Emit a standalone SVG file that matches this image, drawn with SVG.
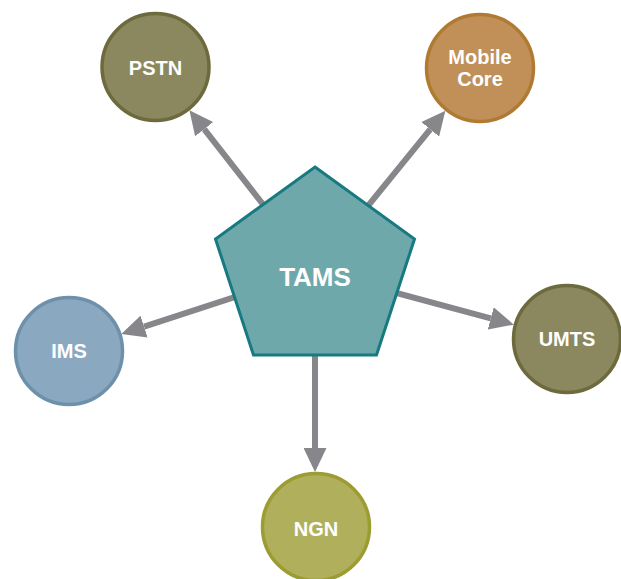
<svg xmlns="http://www.w3.org/2000/svg" width="621" height="579" viewBox="0 0 621 579">
  <style>
    .link { stroke: #87878b; stroke-width: 6; fill: none; marker-end: url(#head); }
    .node circle { stroke-width: 3.5; }
    .label { font-family: "Liberation Sans", Arial, sans-serif; font-weight: bold; fill: #ffffff; text-anchor: middle; font-size: 20px; }
    .hub { font-size: 26px; }
  </style>
  <defs>
    <marker id="head" markerUnits="userSpaceOnUse" markerWidth="24" markerHeight="23" refX="0" refY="11.5" orient="auto">
      <path d="M0,0 L24,11.5 L0,23 z" fill="#87878b"/>
    </marker>
  </defs>
  <rect width="621" height="579" fill="#ffffff"/>

  <g id="connectors">
    <line class="link" x1="315" y1="271" x2="204.2" y2="129.2"/>
    <line class="link" x1="315" y1="271" x2="430.2" y2="129.3"/>
    <line class="link" x1="315" y1="271" x2="144.1" y2="326.6"/>
    <line class="link" x1="315" y1="271" x2="490.7" y2="318.4"/>
    <line class="link" x1="315" y1="271" x2="315" y2="448"/>
  </g>

  <g id="tams" class="node">
    <polygon points="315,167 414.5,239 376.5,355 253.5,355 215.5,239" fill="#6fa8ab" stroke="#177a80" stroke-width="3"/>
    <text class="label hub" x="315" y="286">TAMS</text>
  </g>

  <g id="pstn" class="node">
    <circle cx="155.5" cy="67" r="53.5" fill="#8b875e" stroke="#6d6a3d"/>
    <text class="label" x="155.5" y="75">PSTN</text>
  </g>

  <g id="mobile-core" class="node">
    <circle cx="480" cy="68" r="53.5" fill="#c09058" stroke="#b07a32"/>
    <text class="label" x="480" y="64">Mobile</text>
    <text class="label" x="480" y="86">Core</text>
  </g>

  <g id="ims" class="node">
    <circle cx="69" cy="351" r="53.5" fill="#8aa8bf" stroke="#6e91ab"/>
    <text class="label" x="69" y="358">IMS</text>
  </g>

  <g id="umts" class="node">
    <circle cx="567" cy="339" r="53.5" fill="#8b875e" stroke="#6d6a3d"/>
    <text class="label" x="567" y="346">UMTS</text>
  </g>

  <g id="ngn" class="node">
    <circle cx="316" cy="527" r="53.5" fill="#b0b05c" stroke="#9c9c32"/>
    <text class="label" x="316" y="536">NGN</text>
  </g>
</svg>
